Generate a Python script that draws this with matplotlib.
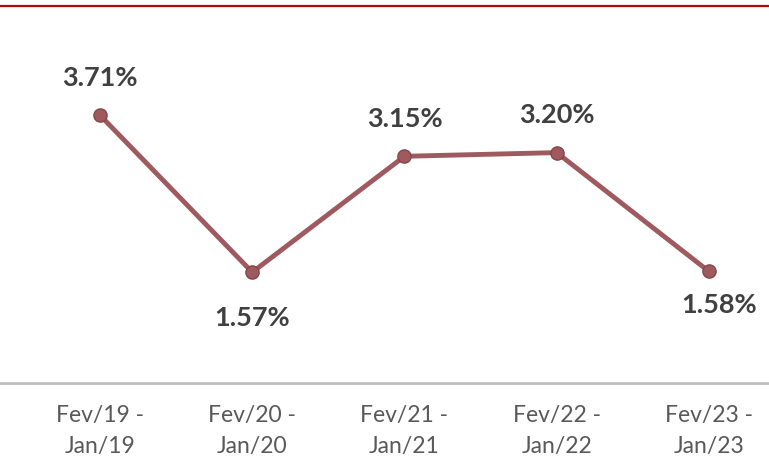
import matplotlib
matplotlib.use('Agg')
import matplotlib.pyplot as plt
from matplotlib.lines import Line2D

plt.rcParams['font.family'] = ['Lato', 'DejaVu Sans']

periods = ['Fev/19 -\nJan/19', 'Fev/20 -\nJan/20', 'Fev/21 -\nJan/21',
           'Fev/22 -\nJan/22', 'Fev/23 -\nJan/23']
rates = [3.71, 1.57, 3.15, 3.20, 1.58]
labels = ['3.71%', '1.57%', '3.15%', '3.20%', '1.58%']
# offset of each data label in points (x, y)
label_off = [(0, 27), (0, -33), (0, 27), (0, 27), (7, -24)]

fig = plt.figure(figsize=(7.69, 4.62), dpi=100)
ax = fig.add_axes([0, 79 / 462, 1, 383 / 462])

x = list(range(len(rates)))
ax.plot(x, rates, color='#9E5A5E', lw=3.5, marker='o', ms=9.5,
        markerfacecolor='#9E5A5E', markeredgecolor='#86464A', zorder=3)

for i, v in enumerate(rates):
    ax.annotate(labels[i], (i, v), xytext=label_off[i], textcoords='offset points',
                ha='center', va='center', fontsize=19.5, fontweight='bold', color='#404040')

ax.set_xlim(-100 / 152.25, 669 / 152.25)
ax.set_ylim(0.06, 5.28)

for s in ['top', 'left', 'right']:
    ax.spines[s].set_visible(False)
ax.spines['bottom'].set_color('#BFBFBF')
ax.spines['bottom'].set_linewidth(2)
ax.set_yticks([])
ax.set_xticks(x)
ax.set_xticklabels(periods, fontsize=16.5, color='#595959', linespacing=1.6)
ax.tick_params(axis='x', length=0, pad=16)

# red rule at the top of the panel
fig.add_artist(Line2D([0, 1], [1 - 6 / 462, 1 - 6 / 462], color='#C00000', lw=1.6))

fig.savefig('out.png', dpi=100)
